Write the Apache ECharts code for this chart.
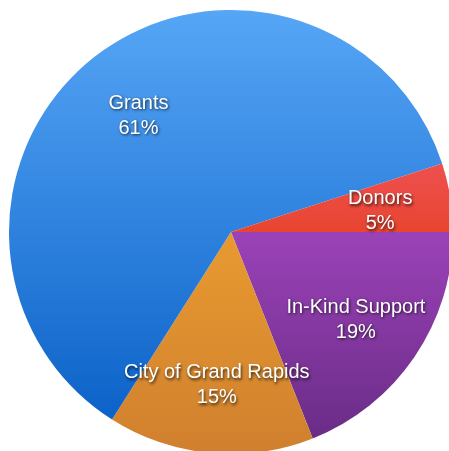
<!DOCTYPE html>
<html>
<head>
<meta charset="utf-8">
<script src="https://cdn.jsdelivr.net/npm/echarts@6/dist/echarts.min.js"></script>
<style>
html,body{margin:0;padding:0;background:#fff;}
#chart{width:449px;height:451px;}
</style>
</head>
<body>
<div id="chart"></div>
<script>
const categories = ["In-Kind Support", "City of Grand Rapids", "Grants", "Donors"];
const values = [19, 15, 61, 5];
const topColors = ["#9b42b8", "#e89a30", "#56a6f6", "#ee5050"];
const bottomColors = ["#6a2c86", "#d0802e", "#0c62c8", "#e84530"];

const chart = echarts.init(document.getElementById('chart'));
const grad = (i) => new echarts.graphic.LinearGradient(0, 0, 0, 1, [
  {offset: 0, color: topColors[i]},
  {offset: 1, color: bottomColors[i]}
]);
const colored = categories.map((c, i) => ({name: c, value: values[i], itemStyle: {color: grad(i)}}));
const plain = categories.map((c, i) => ({name: c, value: values[i]}));

chart.setOption({
  animation: false,
  series: [
    {
      type: 'pie',
      center: [231, 232],
      radius: [0, 222],
      startAngle: 0,
      clockwise: true,
      silent: true,
      label: {show: false},
      labelLine: {show: false},
      itemStyle: {borderWidth: 0},
      data: colored
    },
    {
      type: 'pie',
      center: [231, 232],
      radius: [74, 222],
      startAngle: 0,
      clockwise: true,
      silent: true,
      itemStyle: {color: 'rgba(0,0,0,0)', borderWidth: 0},
      labelLine: {show: false},
      label: {
        show: true,
        position: 'inside',
        offset: [0, 3],
        formatter: '{b}\n{d}%',
        color: '#ffffff',
        fontFamily: 'Liberation Sans, Arial, sans-serif',
        fontSize: 20,
        lineHeight: 25,
        textShadowColor: 'rgba(0,0,0,0.75)',
        textShadowBlur: 3,
        textShadowOffsetX: 1,
        textShadowOffsetY: 1.5
      },
      data: plain
    }
  ]
});
</script>
</body>
</html>
